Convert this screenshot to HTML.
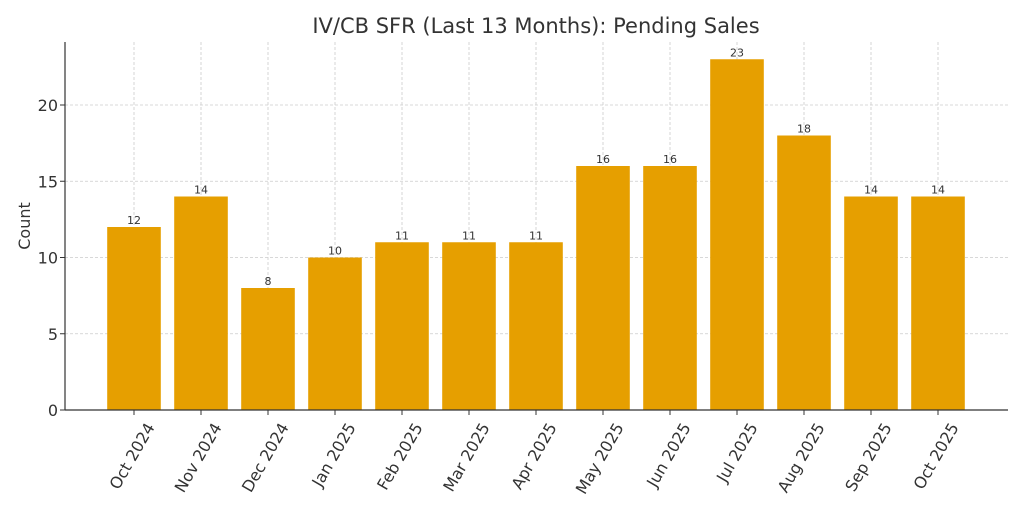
<!DOCTYPE html>
<html><head><meta charset="utf-8"><style>body{margin:0;background:#fff}</style></head><body>
<svg width="1024" height="512" xmlns="http://www.w3.org/2000/svg" font-family="DejaVu Sans, Liberation Sans, sans-serif">
<rect width="1024" height="512" fill="#fff"/>
<text x="536" y="33" font-size="21" text-anchor="middle" fill="#333">IV/CB SFR (Last 13 Months): Pending Sales</text>
<g stroke="#ccc" stroke-width="0.8" stroke-dasharray="3,2">
<line x1="65" x2="1008" y1="333.75" y2="333.75"/><line x1="65" x2="1008" y1="257.5" y2="257.5"/><line x1="65" x2="1008" y1="181.25" y2="181.25"/><line x1="65" x2="1008" y1="105" y2="105"/>
<line x1="134" x2="134" y1="42" y2="410"/><line x1="201" x2="201" y1="42" y2="410"/><line x1="268" x2="268" y1="42" y2="410"/><line x1="335" x2="335" y1="42" y2="410"/><line x1="402" x2="402" y1="42" y2="410"/><line x1="469" x2="469" y1="42" y2="410"/><line x1="536" x2="536" y1="42" y2="410"/><line x1="603" x2="603" y1="42" y2="410"/><line x1="670" x2="670" y1="42" y2="410"/><line x1="737" x2="737" y1="42" y2="410"/><line x1="804" x2="804" y1="42" y2="410"/><line x1="871" x2="871" y1="42" y2="410"/><line x1="938" x2="938" y1="42" y2="410"/>
</g>
<g fill="#E69F00">
<rect x="107.2" y="227" width="53.6" height="183"/>
<rect x="174.2" y="196.5" width="53.6" height="213.5"/>
<rect x="241.2" y="288" width="53.6" height="122"/>
<rect x="308.2" y="257.5" width="53.6" height="152.5"/>
<rect x="375.2" y="242.25" width="53.6" height="167.75"/>
<rect x="442.2" y="242.25" width="53.6" height="167.75"/>
<rect x="509.2" y="242.25" width="53.6" height="167.75"/>
<rect x="576.2" y="166" width="53.6" height="244"/>
<rect x="643.2" y="166" width="53.6" height="244"/>
<rect x="710.2" y="59.25" width="53.6" height="350.75"/>
<rect x="777.2" y="135.5" width="53.6" height="274.5"/>
<rect x="844.2" y="196.5" width="53.6" height="213.5"/>
<rect x="911.2" y="196.5" width="53.6" height="213.5"/>
</g>
<g font-size="11" fill="#333" text-anchor="middle">
<text x="134" y="224">12</text><text x="201" y="193.5">14</text><text x="268" y="285">8</text><text x="335" y="254.5">10</text><text x="402" y="239.25">11</text><text x="469" y="239.25">11</text><text x="536" y="239.25">11</text><text x="603" y="163">16</text><text x="670" y="163">16</text><text x="737" y="56.25">23</text><text x="804" y="132.5">18</text><text x="871" y="193.5">14</text><text x="938" y="193.5">14</text>
</g>
<line x1="65" y1="42" x2="65" y2="410" stroke="#333" stroke-width="1.2"/>
<line x1="65" y1="410" x2="1008" y2="410" stroke="#333" stroke-width="1.2"/>
<g font-size="16" fill="#333" text-anchor="end">
<text x="58" y="416">0</text><text x="58" y="339.75">5</text><text x="58" y="263.5">10</text><text x="58" y="187.25">15</text><text x="58" y="111">20</text>
</g>
<g stroke="#333"><line x1="60" x2="65" y1="410" y2="410"/><line x1="60" x2="65" y1="333.75" y2="333.75"/><line x1="60" x2="65" y1="257.5" y2="257.5"/><line x1="60" x2="65" y1="181.25" y2="181.25"/><line x1="60" x2="65" y1="105" y2="105"/>
<line x1="134" x2="134" y1="410" y2="415"/><line x1="201" x2="201" y1="410" y2="415"/><line x1="268" x2="268" y1="410" y2="415"/><line x1="335" x2="335" y1="410" y2="415"/><line x1="402" x2="402" y1="410" y2="415"/><line x1="469" x2="469" y1="410" y2="415"/><line x1="536" x2="536" y1="410" y2="415"/><line x1="603" x2="603" y1="410" y2="415"/><line x1="670" x2="670" y1="410" y2="415"/><line x1="737" x2="737" y1="410" y2="415"/><line x1="804" x2="804" y1="410" y2="415"/><line x1="871" x2="871" y1="410" y2="415"/><line x1="938" x2="938" y1="410" y2="415"/>
</g>
<text transform="translate(30,226) rotate(-90)" font-size="16" fill="#333" text-anchor="middle">Count</text>
<g font-size="16" fill="#333" text-anchor="end">
<text transform="translate(150,424) rotate(-60)" dy="6">Oct 2024</text>
<text transform="translate(217,424) rotate(-60)" dy="6">Nov 2024</text>
<text transform="translate(284,424) rotate(-60)" dy="6">Dec 2024</text>
<text transform="translate(351,424) rotate(-60)" dy="6">Jan 2025</text>
<text transform="translate(418,424) rotate(-60)" dy="6">Feb 2025</text>
<text transform="translate(485,424) rotate(-60)" dy="6">Mar 2025</text>
<text transform="translate(552,424) rotate(-60)" dy="6">Apr 2025</text>
<text transform="translate(619,424) rotate(-60)" dy="6">May 2025</text>
<text transform="translate(686,424) rotate(-60)" dy="6">Jun 2025</text>
<text transform="translate(753,424) rotate(-60)" dy="6">Jul 2025</text>
<text transform="translate(820,424) rotate(-60)" dy="6">Aug 2025</text>
<text transform="translate(887,424) rotate(-60)" dy="6">Sep 2025</text>
<text transform="translate(954,424) rotate(-60)" dy="6">Oct 2025</text>
</g>
</svg>
</body></html>
